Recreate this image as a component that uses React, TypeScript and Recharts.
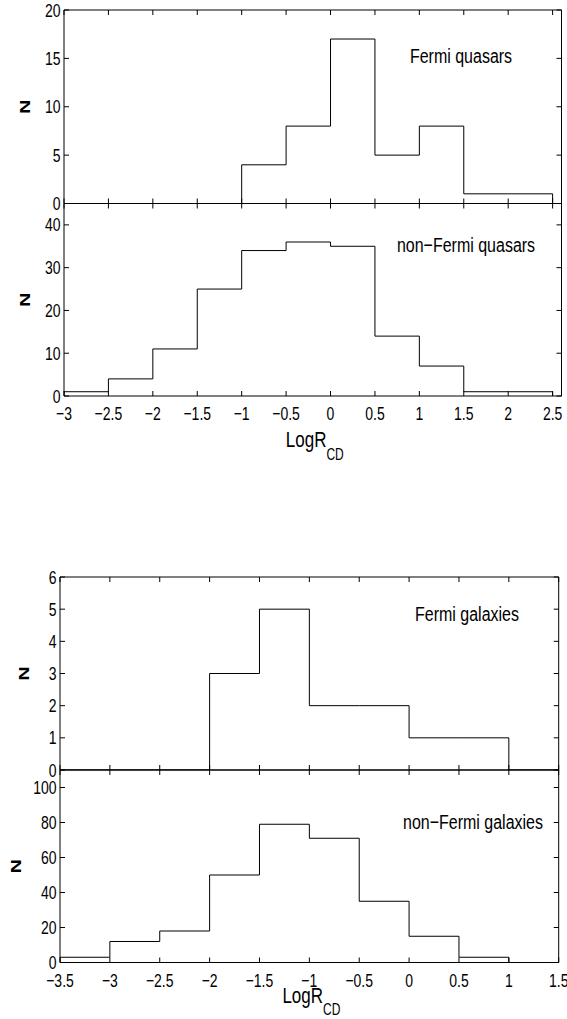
import { Line, LineChart, XAxis, YAxis } from "recharts"

const PAGE_W = 567
const PAGE_H = 1019
const FONT = '"Liberation Sans", Arial, Helvetica, sans-serif'
// the source figure has its text stretched vertically
const STRETCH = 1.3

// bin edges (LogR_CD) and counts per bin
const quasarEdges = [-3, -2.5, -2, -1.5, -1, -0.5, 0, 0.5, 1, 1.5, 2, 2.5]
const fermiQuasars = [0, 0, 0, 0, 4, 8, 17, 5, 8, 1, 1]
const nonFermiQuasars = [1, 4, 11, 25, 34, 36, 35, 14, 7, 1, 1]

const galaxyEdges = [-3.5, -3, -2.5, -2, -1.5, -1, -0.5, 0, 0.5, 1, 1.5]
const fermiGalaxies = [0, 0, 0, 3, 5, 2, 2, 1, 1, 0]
const nonFermiGalaxies = [3, 12, 18, 50, 79, 71, 35, 15, 3, 0]

const quasarXTicks = [-3, -2.5, -2, -1.5, -1, -0.5, 0, 0.5, 1, 1.5, 2, 2.5]
const galaxyXTicks = [-3.5, -3, -2.5, -2, -1.5, -1, -0.5, 0, 0.5, 1, 1.5]
const fermiQuasarYTicks = [0, 5, 10, 15, 20]
const nonFermiQuasarYTicks = [0, 10, 20, 30, 40]
const fermiGalaxyYTicks = [0, 1, 2, 3, 4, 5, 6]
const nonFermiGalaxyYTicks = [0, 20, 40, 60, 80, 100]

type Point = { x: number; n: number }

// outline points for a stepAfter line, closed down to zero on both ends
function toSteps(edges: number[], counts: number[]): Point[] {
  const pts: Point[] = [{ x: edges[0], n: 0 }]
  counts.forEach((c, i) => pts.push({ x: edges[i], n: c }))
  pts.push({ x: edges[edges.length - 1], n: 0 })
  return pts
}

const fmt = (v: number) => String(v).replace("-", "\u2212")

function XTick({ x, y, payload }: any) {
  return (
    <text
      transform={`translate(${x},${y}) scale(1,${STRETCH})`}
      textAnchor="middle"
      dy="0.72em"
      fontSize={14}
      fontFamily={FONT}
      fill="#000"
    >
      {fmt(payload.value)}
    </text>
  )
}

function YTick({ x, y, payload }: any) {
  return (
    <text
      transform={`translate(${x},${y}) scale(1,${STRETCH})`}
      textAnchor="end"
      dy="0.36em"
      fontSize={14}
      fontFamily={FONT}
      fill="#000"
    >
      {fmt(payload.value)}
    </text>
  )
}

const noLabel = () => <g />

interface Box {
  left: number
  right: number
  top: number
  bottom: number
}

interface PanelProps {
  box: Box
  data: Point[]
  xDomain: [number, number]
  xTicks: number[]
  yDomain: [number, number]
  yTicks: number[]
  note: string
  noteX: number
  noteY: number
  nX: number
  xLabelY?: number
  subY?: number
}

function Panel(p: PanelProps) {
  const { box } = p
  const yAxisW = 40
  const xAxisH = 30
  const midX = (box.left + box.right) / 2
  const midY = (box.top + box.bottom) / 2
  const showX = p.xLabelY !== undefined
  const xCommon = {
    type: "number" as const,
    dataKey: "x",
    domain: p.xDomain,
    ticks: p.xTicks,
    allowDataOverflow: true,
    interval: 0 as const,
    stroke: "#000",
  }
  const yCommon = {
    type: "number" as const,
    domain: p.yDomain,
    ticks: p.yTicks,
    allowDataOverflow: true,
    interval: 0 as const,
    stroke: "#000",
  }

  return (
    <div style={{ position: "absolute", left: 0, top: 0 }}>
      <LineChart
        width={PAGE_W}
        height={PAGE_H}
        data={p.data}
        margin={{
          top: box.top,
          bottom: PAGE_H - box.bottom - xAxisH,
          left: box.left - yAxisW,
          right: PAGE_W - box.right,
        }}
      >
        {/* labels only */}
        <XAxis
          xAxisId="b"
          {...xCommon}
          height={xAxisH}
          axisLine={false}
          tickLine={false}
          tickSize={0}
          tickMargin={11}
          tick={showX ? (props: any) => <XTick {...props} /> : noLabel}
        />
        <YAxis
          yAxisId="l"
          {...yCommon}
          width={yAxisW}
          axisLine={false}
          tickLine={false}
          tickSize={0}
          tickMargin={3.5}
          tick={(props: any) => <YTick {...props} />}
        />
        {/* box with inward ticks */}
        <XAxis xAxisId="bm" {...xCommon} mirror height={10} tickSize={5} tick={noLabel} />
        <XAxis xAxisId="tm" orientation="top" {...xCommon} mirror height={10} tickSize={5} tick={noLabel} />
        <YAxis yAxisId="lm" {...yCommon} mirror width={10} tickSize={5} tick={noLabel} />
        <YAxis yAxisId="rm" orientation="right" {...yCommon} mirror width={10} tickSize={5} tick={noLabel} />
        <Line
          xAxisId="b"
          yAxisId="l"
          dataKey="n"
          type="stepAfter"
          stroke="#000"
          strokeWidth={1}
          dot={false}
          isAnimationActive={false}
        />
        <text
          transform={`translate(${p.nX},${midY}) scale(1,${STRETCH}) rotate(-90)`}
          textAnchor="middle"
          dy="0.36em"
          fontSize={15}
          fontWeight="bold"
          fontFamily={FONT}
          fill="#000"
        >
          N
        </text>
        <text
          transform={`translate(${p.noteX},${p.noteY}) scale(1,${STRETCH})`}
          textAnchor="middle"
          fontSize={16}
          fontFamily={FONT}
          fill="#000"
        >
          {p.note}
        </text>
        {showX && (
          <text
            transform={`translate(${midX + 2},${p.xLabelY}) scale(1,${STRETCH})`}
            textAnchor="middle"
            fontSize={17}
            fontFamily={FONT}
            fill="#000"
          >
            LogR
            <tspan fontSize={12} dy={((p.subY ?? 0) - (p.xLabelY ?? 0)) / STRETCH}>
              CD
            </tspan>
          </text>
        )}
      </LineChart>
    </div>
  )
}

export default function App() {
  const quasarBox = { left: 64, right: 561.5 }
  const galaxyBox = { left: 60, right: 558.7 }
  return (
    <div
      style={{
        position: "absolute",
        left: 0,
        top: 0,
        width: PAGE_W,
        height: PAGE_H,
        background: "#fff",
        overflow: "hidden",
      }}
    >
      <Panel
        box={{ ...quasarBox, top: 10, bottom: 203.5 }}
        data={toSteps(quasarEdges, fermiQuasars)}
        xDomain={[-3, 2.6]}
        xTicks={quasarXTicks}
        yDomain={[0, 20]}
        yTicks={fermiQuasarYTicks}
        note="Fermi quasars"
        noteX={461}
        noteY={62.5}
        nX={25}
      />
      <Panel
        box={{ ...quasarBox, top: 203.5, bottom: 396 }}
        data={toSteps(quasarEdges, nonFermiQuasars)}
        xDomain={[-3, 2.6]}
        xTicks={quasarXTicks}
        yDomain={[0, 45]}
        yTicks={nonFermiQuasarYTicks}
        note={"non\u2212Fermi quasars"}
        noteX={466}
        noteY={252}
        nX={25}
        xLabelY={447}
        subY={460}
      />
      <Panel
        box={{ ...galaxyBox, top: 577, bottom: 770 }}
        data={toSteps(galaxyEdges, fermiGalaxies)}
        xDomain={[-3.5, 1.5]}
        xTicks={galaxyXTicks}
        yDomain={[0, 6]}
        yTicks={fermiGalaxyYTicks}
        note="Fermi galaxies"
        noteX={467}
        noteY={621}
        nX={23.6}
      />
      <Panel
        box={{ ...galaxyBox, top: 770, bottom: 962.5 }}
        data={toSteps(galaxyEdges, nonFermiGalaxies)}
        xDomain={[-3.5, 1.5]}
        xTicks={galaxyXTicks}
        yDomain={[0, 110]}
        yTicks={nonFermiGalaxyYTicks}
        note={"non\u2212Fermi galaxies"}
        noteX={473}
        noteY={829}
        nX={16}
        xLabelY={1003}
        subY={1015}
      />
    </div>
  )
}
